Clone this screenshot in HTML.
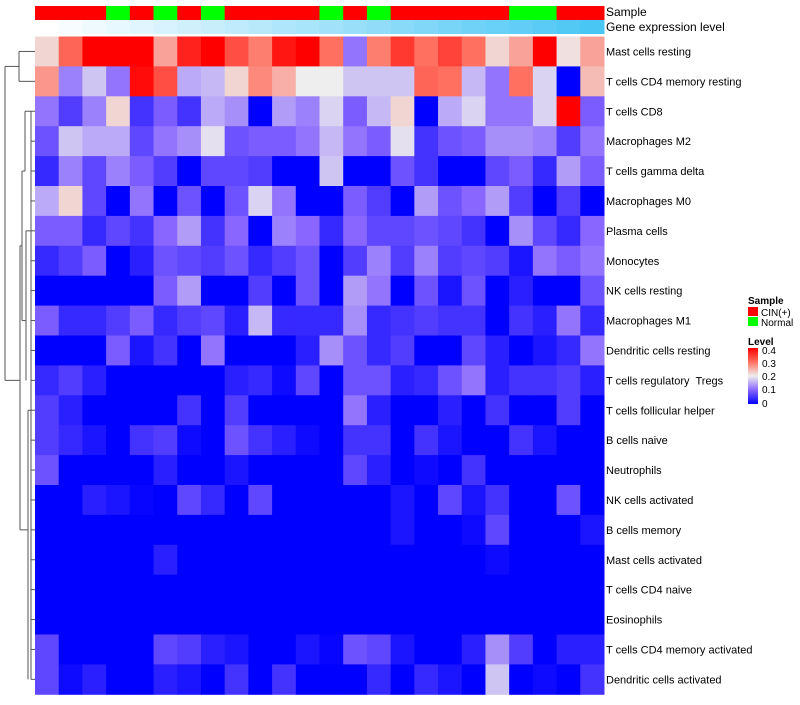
<!DOCTYPE html>
<html><head><meta charset="utf-8"><style>
body{margin:0;background:#fff;font-family:"Liberation Sans",sans-serif;}
svg text{font-family:"Liberation Sans",sans-serif;white-space:pre;}
</style></head><body>
<svg id="chart" width="800" height="700" xmlns="http://www.w3.org/2000/svg">
<defs><linearGradient id="lg" x1="0" y1="1" x2="0" y2="0">
<stop offset="0" stop-color="#0000ff"/><stop offset="0.25" stop-color="#8866ff"/><stop offset="0.5" stop-color="#eeeeee"/><stop offset="0.75" stop-color="#ff7060"/><stop offset="1" stop-color="#ff0000"/></linearGradient></defs>
<g id="dendro" stroke="#555" stroke-width="1" fill="none"></g>
<g id="cells"></g>
<g id="annot"></g>
<g id="labels"></g>
<text x="606" y="16" font-size="12">Sample</text>
<text x="606" y="31" font-size="12">Gene expression level</text>
<g>
<text x="748" y="304" font-size="10" font-weight="bold">Sample</text>
<rect x="748" y="307" width="10" height="9" fill="#ff0000"/>
<text x="761" y="316" font-size="10">CIN(+)</text>
<rect x="748" y="317" width="10" height="9" fill="#00ff00"/>
<text x="761" y="326" font-size="10">Normal</text>
<text x="748" y="345" font-size="10" font-weight="bold">Level</text>
<rect x="748" y="348" width="10" height="56" fill="url(#lg)"/>
<text x="762" y="354" font-size="10">0.4</text>
<text x="762" y="367" font-size="10">0.3</text>
<text x="762" y="380" font-size="10">0.2</text>
<text x="762" y="393" font-size="10">0.1</text>
<text x="762" y="407" font-size="10">0</text>
</g>
</svg>
<script>
const rowNames=["Mast cells resting","T cells CD4 memory resting","T cells CD8","Macrophages M2","T cells gamma delta","Macrophages M0","Plasma cells","Monocytes","NK cells resting","Macrophages M1","Dendritic cells resting","T cells regulatory  Tregs","T cells follicular helper","B cells naive","Neutrophils","NK cells activated","B cells memory","Mast cells activated","T cells CD4 naive","Eosinophils","T cells CD4 memory activated","Dendritic cells activated"];
const sampleGroups=["C","C","C","N","C","N","C","N","C","C","C","C","N","C","N","C","C","C","C","C","N","N","C","C"];
const r1=[0.22,0.31,0.4,0.4,0.4,0.26,0.37,0.4,0.33,0.29,0.38,0.4,0.3,0.11,0.29,0.35,0.3,0.34,0.3,0.22,0.26,0.4,0.21,0.26];
const r2=[0.27,0.12,0.17,0.11,0.39,0.33,0.15,0.16,0.22,0.28,0.25,0.2,0.2,0.17,0.17,0.17,0.31,0.3,0.16,0.11,0.3,0.18,0,0.24];
const r3=[0.11,0.06,0.12,0.22,0.05,0.09,0.05,0.15,0.13,0,0.14,0.12,0.18,0.09,0.16,0.22,0,0.15,0.18,0.11,0.11,0.18,0.4,0.09];
const r4=[0.08,0.17,0.15,0.15,0.07,0.11,0.13,0.19,0.08,0.09,0.09,0.11,0.16,0.11,0.09,0.19,0.05,0.08,0.09,0.13,0.13,0.12,0.06,0.11];
const r5=[0.04,0.12,0.07,0.12,0.09,0.06,0,0.07,0.07,0.06,0,0,0.17,0,0,0.08,0.05,0,0,0.07,0.09,0.04,0.14,0.09];
const r6=[0.15,0.22,0.07,0,0.11,0,0.08,0,0.08,0.18,0.11,0,0,0.09,0.06,0,0.14,0.08,0.1,0.14,0.06,0,0.06,0];
const r7=[0.09,0.09,0.04,0.07,0.05,0.1,0.14,0.05,0.1,0,0.12,0.1,0.04,0.1,0.07,0.07,0.08,0.07,0.05,0,0.13,0.07,0.04,0.1];
const r8=[0.04,0.06,0.09,0,0.03,0.08,0.07,0.06,0.08,0.04,0.06,0.08,0,0.06,0.12,0.06,0.12,0.06,0.07,0.06,0.02,0.11,0.09,0.11];
const r9=[0,0,0,0,0,0.09,0.14,0,0,0.06,0,0.08,0,0.14,0.11,0,0.08,0.02,0.08,0,0.03,0,0,0.08];
const r10=[0.09,0.04,0.04,0.06,0.09,0.04,0.06,0.07,0.03,0.16,0.04,0.04,0.04,0.13,0.04,0.05,0.06,0.05,0.05,0,0.05,0.03,0.11,0.04];
const r11=[0,0,0,0.09,0.02,0.05,0,0.11,0,0,0,0.03,0.13,0.08,0.04,0.06,0,0,0.07,0.03,0,0.02,0.04,0.11];
const r12=[0.04,0.06,0.03,0,0,0,0,0,0.03,0.04,0.01,0.07,0,0.08,0.08,0.03,0.04,0.08,0.11,0.03,0.05,0.05,0.06,0.03];
const r13=[0.06,0.03,0,0,0,0,0.05,0,0.06,0,0,0,0,0.11,0.03,0,0,0.03,0,0.05,0,0,0.06,0];
const r14=[0.06,0.04,0.02,0,0.05,0.06,0.01,0,0.08,0.05,0.03,0.01,0,0.05,0.05,0,0.05,0.02,0,0,0.05,0.02,0,0];
const r15=[0.08,0,0,0,0,0.03,0,0,0.02,0,0,0,0,0.07,0.03,0,0.01,0,0.05,0,0,0,0,0];
const r16=[0,0,0.03,0.02,0.005,0,0.07,0.04,0,0.07,0,0,0,0,0,0.02,0,0.07,0.02,0.05,0,0,0.08,0];
const r17=[0,0,0,0,0,0,0,0,0,0,0,0,0,0,0,0.02,0,0,0.01,0.07,0,0,0,0.02];
const r18=[0,0,0,0,0,0.03,0,0,0,0,0,0,0,0,0,0,0,0,0,0.01,0,0,0,0];
const r19=[0,0,0,0,0,0,0,0,0,0,0,0,0,0,0,0,0,0,0,0,0,0,0,0];
const r20=[0,0,0,0,0,0,0,0,0,0,0,0,0,0,0,0,0,0,0,0,0,0,0,0];
const r21=[0.07,0,0,0,0,0.07,0.06,0.03,0.02,0,0,0.02,0.005,0.08,0.07,0.02,0,0,0.03,0.13,0.06,0,0.03,0.03];
const r22=[0.07,0.01,0.03,0,0,0.03,0.02,0,0.05,0,0.05,0,0,0,0.04,0,0.04,0.02,0,0.17,0,0.01,0,0.05];
const values=[r1,r2,r3,r4,r5,r6,r7,r8,r9,r10,r11,r12,r13,r14,r15,r16,r17,r18,r19,r20,r21,r22];

const X0=35,X1=604,Y0=36.5,RH=29.9,NC=24;
const CW=(X1-X0)/NC;
const xPos=i=>X0+i*CW;
const yPos=j=>Y0+j*RH;
const NS="http://www.w3.org/2000/svg";
const stops=[[0,[0,0,255]],[0.1,[136,102,255]],[0.2,[238,238,238]],[0.3,[255,112,96]],[0.4,[255,0,0]]];
function color(v){v=Math.max(0,Math.min(0.4,v));for(let k=0;k<stops.length-1;k++){const[a,ca]=stops[k],[b,cb]=stops[k+1];if(v<=b){const t=(v-a)/(b-a);return`rgb(${ca.map((c,i)=>Math.round(c+(cb[i]-c)*t)).join(",")})`;}}return"red";}
function mk(tag,attrs,parent){const e=document.createElementNS(NS,tag);for(const k in attrs)e.setAttribute(k,attrs[k]);parent.appendChild(e);return e;}
const cells=document.getElementById("cells");
values.forEach((row,j)=>row.forEach((v,i)=>{
 const r=mk("rect",{x:xPos(i),y:yPos(j),width:CW+0.5,height:RH+0.5,fill:color(v)},cells);
 
 
}));
const labels=document.getElementById("labels");
rowNames.forEach((n,j)=>{
 const t=mk("text",{x:606,y:yPos(j)+RH/2+4,"font-size":11},labels);
 t.textContent=n;
 
 
});
const annot=document.getElementById("annot");
sampleGroups.forEach((g,i)=>{
 const r=mk("rect",{x:xPos(i),y:6,width:CW+0.5,height:14,fill:g==="C"?"#ff0000":"#00ff00"},annot);
 
 
 const t=i/(NC-1);
 const c=`rgb(${Math.round(255-(255-74)*t)},${Math.round(255-(255-198)*t)},${Math.round(255-(255-245)*t)})`;
 const r2=mk("rect",{x:xPos(i),y:20,width:CW+0.5,height:14,fill:c},annot);
 
 
});
const d=document.getElementById("dendro");
const cy=j=>yPos(j)+RH/2;
function seg(x1,y1,x2,y2){const l=mk("line",{x1,y1,x2,y2},d);}
seg(35,cy(0),19,cy(0));seg(35,cy(1),19,cy(1));seg(19,cy(0),19,cy(1));
const topY=(cy(0)+cy(1))/2;
for(let j=2;j<22;j++){seg(35,cy(j),31,cy(j));}
seg(31,cy(2),31,cy(21));
seg(31,cy(2),25,cy(2));
seg(25,cy(2),25,cy(4));seg(25,cy(4),22,cy(4));
seg(31,cy(6),26,cy(6));seg(26,cy(6),26,cy(11));seg(26,cy(9),22,cy(9));
seg(22,cy(4),22,cy(9));seg(22,cy(6.5),20,cy(6.5));
seg(31,cy(12),28,cy(12));seg(28,cy(12),28,cy(21));seg(28,cy(16),20,cy(16));
seg(20,cy(6.5),20,cy(16));
const restY=cy(11);
seg(20,restY,14,restY);
seg(19,topY,5,topY);seg(14,restY,5,restY);seg(5,topY,5,restY);
</script>
</body></html>
